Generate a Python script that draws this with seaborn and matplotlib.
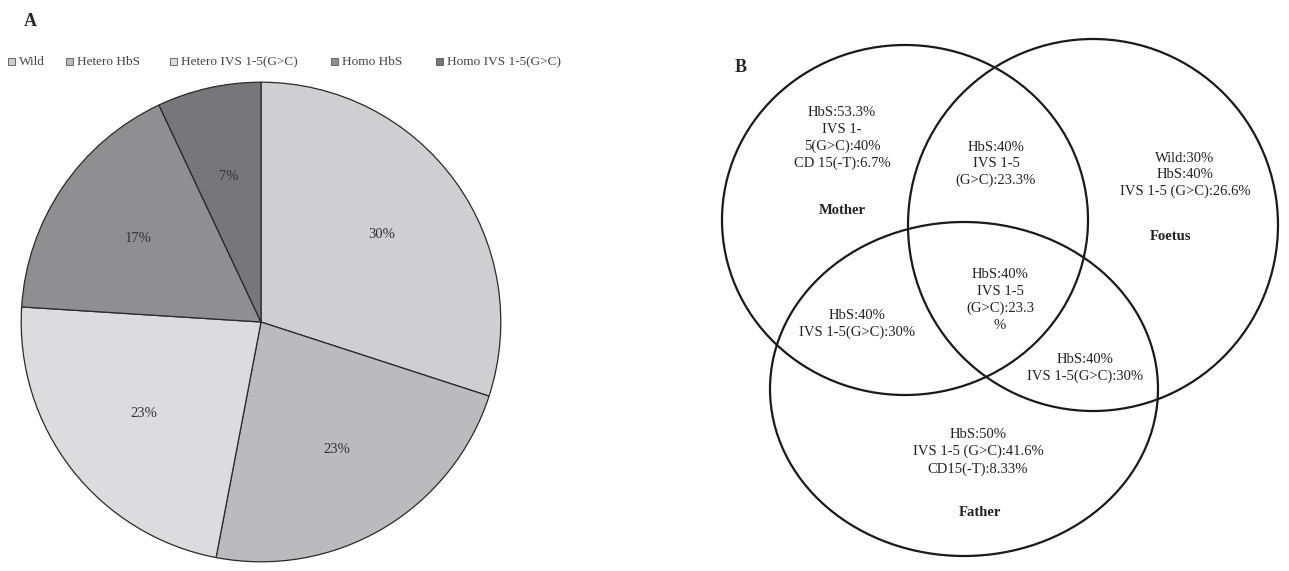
import matplotlib
matplotlib.use("Agg")
import matplotlib.pyplot as plt
from matplotlib.patches import Ellipse
import seaborn as sns

# ── data ──
genotypes = ["Wild", "Hetero HbS", "Hetero IVS 1-5(G>C)", "Homo HbS", "Homo IVS 1-5(G>C)"]
shares    = [30, 23, 23, 17, 7]
colors    = ["#cfcfd1", "#bbbbbd", "#dcdcde", "#8f8f92", "#77777a"]

venn_texts = [
    ("HbS:53.3%\nIVS 1-\n5(G>C):40%\nCD 15(-T):6.7%", 842, 138),
    ("Mother", 842, 211),
    ("HbS:40%\nIVS 1-5\n(G>C):23.3%", 996, 164),
    ("Wild:30%\nHbS:40%\nIVS 1-5 (G>C):26.6%", 1185, 175),
    ("Foetus", 1170, 236),
    ("HbS:40%\nIVS 1-5(G>C):30%", 857, 324),
    ("HbS:40%\nIVS 1-5\n(G>C):23.3\n%", 1000, 300),
    ("HbS:40%\nIVS 1-5(G>C):30%", 1085, 368),
    ("HbS:50%\nIVS 1-5 (G>C):41.6%\nCD15(-T):8.33%", 978, 452),
    ("Father", 980, 513),
]

sns.set_theme(style="white")
plt.rcParams["font.family"] = "Liberation Serif"

W, H = 1289, 571
fig = plt.figure(figsize=(W / 100, H / 100), dpi=100)

# ── panel A: pie ──
cx, cy, r = 261, 322, 241
ax = fig.add_axes([(cx - r) / W, (H - cy - r) / H, 2 * r / W, 2 * r / H])
ax.pie(shares, colors=colors, startangle=90, counterclock=False,
       autopct="%d%%", pctdistance=0.62, radius=1,
       wedgeprops=dict(edgecolor="#2a2a2a", linewidth=0.9),
       textprops=dict(fontsize=10.5, color="#333333"))
ax.set_xlim(-1.005, 1.005); ax.set_ylim(-1.005, 1.005)
ax.set_aspect("equal")

# ── overlay for labels and venn ──
ov = fig.add_axes([0, 0, 1, 1])
ov.set_xlim(0, W); ov.set_ylim(H, 0); ov.axis("off")
ov.patch.set_alpha(0)

ov.text(24, 22, "A", fontsize=13, fontweight="bold", va="center")
ov.text(735, 68, "B", fontsize=13, fontweight="bold", va="center")

# legend
for g, c, x in zip(genotypes, colors, [8, 66, 170, 331, 436]):
    ov.add_patch(plt.Rectangle((x, 58), 7, 7, facecolor=c, edgecolor="#555555", lw=0.6))
    ov.text(x + 11, 62, g, fontsize=9.5, color="#444444", va="center")

# venn ellipses
for (ex, ey, ew, eh) in [(905, 220, 366, 350),
                         (1093, 225, 370, 372),
                         (964, 389, 388, 334)]:
    ov.add_patch(Ellipse((ex, ey), ew, eh, fill=False, edgecolor="#1a1a1a", lw=1.6))

for txt, tx, ty in venn_texts:
    bold = txt in ("Mother", "Foetus", "Father")
    ov.text(tx, ty, txt, ha="center", va="center", fontsize=10.5,
            fontweight="bold" if bold else "normal", color="#222222", linespacing=1.35)

fig.savefig("out.png", dpi=100, facecolor="white")
